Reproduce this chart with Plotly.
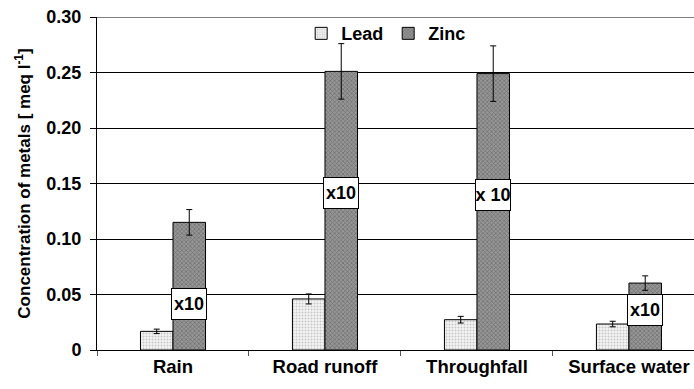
import plotly.graph_objects as go

categories = ["Rain", "Road runoff", "Throughfall", "Surface water"]
lead = [0.0168, 0.046, 0.0273, 0.0234]
lead_err = [0.002, 0.0045, 0.003, 0.0025]
zinc = [0.115, 0.251, 0.249, 0.0603]
zinc_err = [0.0115, 0.025, 0.025, 0.0065]
box_labels = ["x10", "x10", "x 10", "x10"]
box_y = [0.0417, 0.141, 0.140, 0.0357]
ytick_vals = [0, 0.05, 0.10, 0.15, 0.20, 0.25, 0.30]
ytick_text = ["0", "0.05", "0.10", "0.15", "0.20", "0.25", "0.30"]

FONT = "Liberation Sans, Arial, sans-serif"

def b(s):
    return "<b>" + s + "</b>"

fig = go.Figure()
fig.add_trace(go.Bar(
    name=b("Lead"), x=categories, y=lead,
    marker=dict(color="white", line=dict(color="black", width=1),
                pattern=dict(shape=".", fgcolor="#9a9a9a", bgcolor="#f4f4f4", size=3, solidity=0.35)),
    error_y=dict(type="data", array=lead_err, color="black", thickness=1, width=3),
))
fig.add_trace(go.Bar(
    name=b("Zinc"), x=categories, y=zinc,
    marker=dict(color="#8a8a8a", line=dict(color="black", width=1),
                pattern=dict(shape="x", fgcolor="#444444", bgcolor="#969696", size=3, solidity=0.4)),
    error_y=dict(type="data", array=zinc_err, color="black", thickness=1, width=3),
))

for c, t, yv in zip(categories, box_labels, box_y):
    fig.add_annotation(x=c, y=yv, xref="x", yref="y", text=b(t), showarrow=False,
                       xshift=16.5, font=dict(family=FONT, size=18, color="black"),
                       bgcolor="white", bordercolor="black", borderwidth=1,
                       width=34, height=30, borderpad=0)

fig.add_shape(type="line", xref="paper", yref="y", x0=0, x1=1, y0=0.30, y1=0.30,
              line=dict(color="#808080", width=2), layer="above")

fig.update_layout(
    width=694, height=389,
    margin=dict(l=97, r=0, t=17, b=39),
    paper_bgcolor="white", plot_bgcolor="white",
    barmode="group", bargap=0.572, bargroupgap=0,
    font=dict(family=FONT, color="black"),
    legend=dict(orientation="h", x=0.342, xanchor="left", y=0.95, yanchor="middle",
                font=dict(family=FONT, size=18), bgcolor="rgba(0,0,0,0)",
                itemwidth=30, tracegroupgap=0, itemclick=False),
    showlegend=True,
)
fig.update_xaxes(type="category", range=[-0.5, 3.428], showgrid=False,
                 tickvals=categories, ticktext=[b(c) for c in categories],
                 showline=True, linecolor="black", linewidth=1,
                 ticks="outside", tickson="boundaries", ticklen=5, tickcolor="#555",
                 tickfont=dict(family=FONT, size=18.5))
fig.update_yaxes(range=[0, 0.30], tickvals=ytick_vals, ticktext=[b(t) for t in ytick_text],
                 showgrid=True, gridcolor="black", gridwidth=1,
                 showline=True, linecolor="black", linewidth=1,
                 ticks="outside", ticklen=6, tickcolor="black", ticklabelstandoff=5,
                 tickfont=dict(family=FONT, size=18),
                 zeroline=False,
                 title=dict(text=b("Concentration of metals [ meq l<sup>-1</sup>]"),
                            font=dict(family=FONT, size=17), standoff=11))

fig.write_html("out.html")
